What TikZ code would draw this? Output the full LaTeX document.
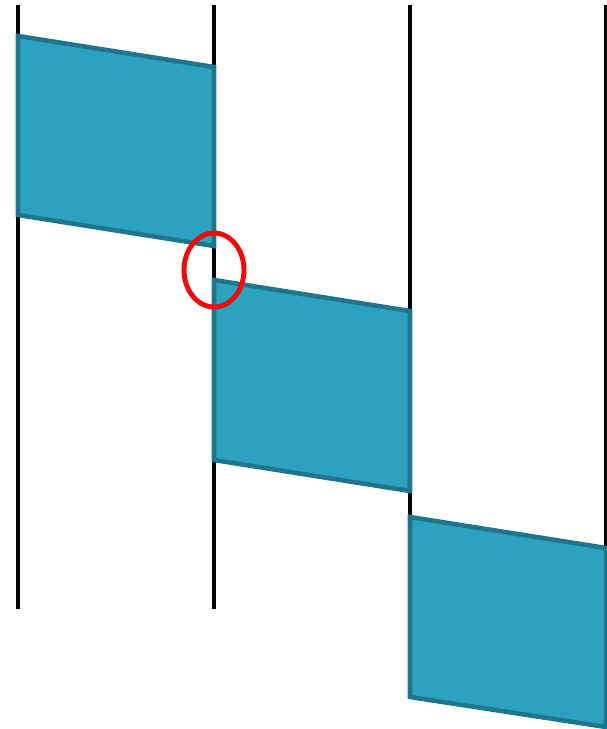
\documentclass[tikz,border=0pt]{standalone}
\usepackage{tikz}
\usetikzlibrary{calc}
\definecolor{slabfill}{RGB}{44,162,192}
\definecolor{slabedge}{RGB}{31,118,140}
\definecolor{markred}{RGB}{240,10,10}
\begin{document}
\begin{tikzpicture}[
    x=0.02cm, y=-0.02cm,
    %% Styles
    rail/.style={draw=black, line width=2.4pt},
    slab/.style={fill=slabfill, draw=slabedge, line width=2.6pt, line join=miter},
    gapRing/.style={draw=markred, line width=2.8pt}
  ]
  \useasboundingbox (0,0) rectangle (607,729);
  \begin{scope}
  \clip (0,0) rectangle (607,729);

  %% ── Vertical rails ─────────────────────────────────────
  \foreach \x in {18,214,410,606}
    \draw[rail] (\x,5) -- (\x,609);

  %% ── Slabs (one per column, stepping down) ──────────────
  \draw[slab] (18,36)  -- (214,67)  -- (214,246) -- (18,215)  -- cycle;
  \draw[slab] (214,280) -- (410,311) -- (410,491) -- (214,460) -- cycle;
  \draw[slab] (410,517) -- (606,548) -- (606,727) -- (410,697) -- cycle;

  %% ── Gap marker ─────────────────────────────────────────
  \draw[gapRing] (214,270) ellipse [x radius=30, y radius=37];
  \end{scope}
\end{tikzpicture}
\end{document}
